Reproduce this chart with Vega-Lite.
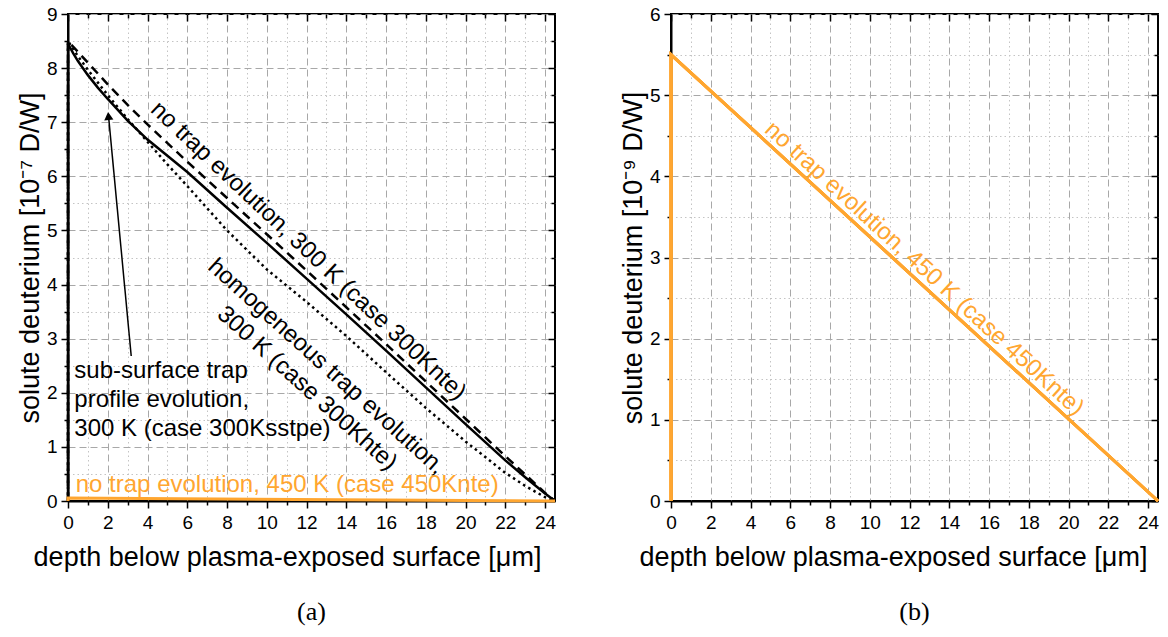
{
  "$schema": "https://vega.github.io/schema/vega-lite/v6.json",
  "padding": {"left": 15, "top": 4, "right": 5, "bottom": 5},
  "spacing": 56,
  "background": "white",
  "config": {
    "view": {"stroke": "black", "strokeWidth": 2},
    "axis": {"labelFont": "Liberation Sans", "titleFont": "Liberation Sans", "labelFontSize": 19, "titleFontSize": 27, "titleFontWeight": "normal", "labelColor": "black", "titleColor": "black", "domainColor": "black", "tickColor": "black", "domainWidth": 2, "tickWidth": 1.5, "labelFlush": false, "labelOverlap": false},
    "text": {"font": "Liberation Sans", "fontSize": 24},
    "title": {"font": "Liberation Serif", "fontSize": 26, "fontWeight": "normal", "color": "black"}
  },
  "datasets": {
    "solidA": [
      {"x": 0, "y": 0}, {"x": 0, "y": 8.45}, {"x": 0.25, "y": 8.28}, {"x": 0.5, "y": 8.13}, {"x": 1, "y": 7.87}, {"x": 1.5, "y": 7.64}, {"x": 2, "y": 7.43}, {"x": 3, "y": 7.03}, {"x": 4, "y": 6.68}, {"x": 5, "y": 6.38}, {"x": 6, "y": 6.08}, {"x": 8, "y": 5.42}, {"x": 10, "y": 4.77}, {"x": 12, "y": 4.11}, {"x": 14, "y": 3.45}, {"x": 16, "y": 2.78}, {"x": 18, "y": 2.1}, {"x": 20, "y": 1.42}, {"x": 22, "y": 0.75}, {"x": 23, "y": 0.44}, {"x": 24, "y": 0.14}, {"x": 24.5, "y": 0}
    ],
    "dashedA": [
      {"x": 0, "y": 0}, {"x": 0, "y": 8.5}, {"x": 0.5, "y": 8.3}, {"x": 1, "y": 8.1}, {"x": 2, "y": 7.7}, {"x": 3, "y": 7.32}, {"x": 4, "y": 6.96}, {"x": 6, "y": 6.27}, {"x": 8, "y": 5.6}, {"x": 10, "y": 4.93}, {"x": 12, "y": 4.26}, {"x": 14, "y": 3.58}, {"x": 16, "y": 2.9}, {"x": 18, "y": 2.21}, {"x": 20, "y": 1.52}, {"x": 22, "y": 0.83}, {"x": 23, "y": 0.49}, {"x": 24, "y": 0.15}, {"x": 24.5, "y": 0}
    ],
    "dottedA": [
      {"x": 0, "y": 0}, {"x": 0, "y": 8.5}, {"x": 0.5, "y": 8.22}, {"x": 1, "y": 7.97}, {"x": 2, "y": 7.5}, {"x": 3, "y": 7.06}, {"x": 4, "y": 6.64}, {"x": 5, "y": 6.22}, {"x": 6, "y": 5.82}, {"x": 8, "y": 5.0}, {"x": 10, "y": 4.28}, {"x": 12, "y": 3.68}, {"x": 14, "y": 3.05}, {"x": 16, "y": 2.38}, {"x": 18, "y": 1.72}, {"x": 20, "y": 1.1}, {"x": 22, "y": 0.52}, {"x": 23, "y": 0.28}, {"x": 24, "y": 0.07}, {"x": 24.5, "y": 0}
    ],
    "orangeA": [
      {"x": 0, "y": 0}, {"x": 0, "y": 0.055}, {"x": 24.5, "y": 0}
    ],
    "arrowA": [
      {"x": 2.03, "y": 7.15}, {"x": 3.18, "y": 2.68}
    ],
    "arrowHeadA": [
      {"x": 2.035, "y": 7.115}
    ],
    "labelsA": [
      {"id": "nte300", "text": "no trap evolution, 300 K (case 300Knte)", "x": 12.08, "y": 4.62},
      {"id": "hte300", "text": "homogeneous trap evolution,\n300 K (case 300Khte)", "x": 13.0, "y": 2.48},
      {"id": "ssstpe", "text": "sub-surface trap\nprofile evolution,\n300 K (case 300Ksstpe)", "x": 0.32, "y": 2.63},
      {"id": "nte450", "text": "no trap evolution, 450 K (case 450Knte)", "x": 0.39, "y": 0.175}
    ],
    "orangeB": [
      {"x": 0, "y": 0}, {"x": 0, "y": 5.5}, {"x": 24.5, "y": 0}
    ],
    "labelsB": [
      {"id": "nte450", "text": "no trap evolution, 450 K (case 450Knte)", "x": 12.74, "y": 2.86}
    ]
  },
  "hconcat": [
    {
      "width": 487,
      "height": 487,
      "title": {"text": "(a)", "orient": "bottom", "anchor": "middle", "frame": "group", "offset": 29},
      "resolve": {"axis": {"x": "independent", "y": "independent"}},
      "layer": [
        {
          "data": {"name": "solidA"},
          "mark": {"type": "line", "color": "black", "strokeWidth": 2.5},
          "encoding": {
            "x": {"field": "x", "type": "quantitative", "scale": {"domain": [0, 24.5], "nice": false},
              "axis": {"orient": "bottom", "values": [0, 2, 4, 6, 8, 10, 12, 14, 16, 18, 20, 22, 24], "grid": true, "gridColor": "#a8a8a8", "gridDash": [7, 4], "gridWidth": 1, "tickSize": 7, "labelPadding": 5, "title": "depth below plasma-exposed surface [μm]", "titlePadding": 12, "titleX": 219}},
            "y": {"field": "y", "type": "quantitative", "scale": {"domain": [0, 9], "nice": false},
              "axis": {"orient": "left", "values": [0, 1, 2, 3, 4, 5, 6, 7, 8, 9], "grid": true, "gridColor": "#a8a8a8", "gridDash": [7, 4], "gridWidth": 1, "tickSize": 7, "labelPadding": 4, "title": "solute deuterium [10⁻⁷ D/W]", "titlePadding": 2}},
            "order": {"value": null}
          }
        },
        {
          "data": {"name": "dashedA"},
          "mark": {"type": "line", "color": "black", "strokeWidth": 2.5, "strokeDash": [9, 6]},
          "encoding": {
            "x": {"field": "x", "type": "quantitative", "scale": {"domain": [0, 24.5], "nice": false},
              "axis": {"orient": "bottom", "values": [1, 3, 5, 7, 9, 11, 13, 15, 17, 19, 21, 23], "grid": true, "gridColor": "#c4c4c4", "gridDash": [1.5, 3], "gridWidth": 1, "tickSize": 4, "labels": false, "domain": false, "title": null}},
            "y": {"field": "y", "type": "quantitative", "scale": {"domain": [0, 9], "nice": false},
              "axis": {"orient": "left", "values": [0.5, 1.5, 2.5, 3.5, 4.5, 5.5, 6.5, 7.5, 8.5], "grid": true, "gridColor": "#c4c4c4", "gridDash": [1.5, 3], "gridWidth": 1, "tickSize": 4, "labels": false, "domain": false, "title": null}},
            "order": {"value": null}
          }
        },
        {
          "data": {"name": "dottedA"},
          "mark": {"type": "line", "color": "black", "strokeWidth": 2.5, "strokeDash": [2.5, 3.5]},
          "encoding": {
            "x": {"field": "x", "type": "quantitative", "scale": {"domain": [0, 24.5], "nice": false},
              "axis": {"orient": "top", "values": [0, 2, 4, 6, 8, 10, 12, 14, 16, 18, 20, 22, 24], "grid": false, "tickSize": -7, "labels": false, "domain": false, "title": null}},
            "y": {"field": "y", "type": "quantitative", "scale": {"domain": [0, 9], "nice": false},
              "axis": {"orient": "right", "values": [0, 1, 2, 3, 4, 5, 6, 7, 8, 9], "grid": false, "tickSize": -7, "labels": false, "domain": false, "title": null}},
            "order": {"value": null}
          }
        },
        {
          "data": {"name": "orangeA"},
          "mark": {"type": "line", "color": "#ffa630", "strokeWidth": 3},
          "encoding": {
            "x": {"field": "x", "type": "quantitative", "scale": {"domain": [0, 24.5], "nice": false},
              "axis": {"orient": "top", "values": [1, 3, 5, 7, 9, 11, 13, 15, 17, 19, 21, 23], "grid": false, "tickSize": -4, "labels": false, "domain": false, "title": null}},
            "y": {"field": "y", "type": "quantitative", "scale": {"domain": [0, 9], "nice": false},
              "axis": {"orient": "right", "values": [0.5, 1.5, 2.5, 3.5, 4.5, 5.5, 6.5, 7.5, 8.5], "grid": false, "tickSize": -4, "labels": false, "domain": false, "title": null}},
            "order": {"value": null}
          }
        },
        {
          "data": {"name": "arrowA"},
          "mark": {"type": "line", "color": "black", "strokeWidth": 1.5},
          "encoding": {
            "x": {"field": "x", "type": "quantitative", "axis": null},
            "y": {"field": "y", "type": "quantitative", "axis": null}
          }
        },
        {
          "data": {"name": "arrowHeadA"},
          "mark": {"type": "point", "shape": "triangle-up", "filled": true, "color": "black", "opacity": 1, "size": 85, "angle": -5.4},
          "encoding": {
            "x": {"field": "x", "type": "quantitative", "axis": null},
            "y": {"field": "y", "type": "quantitative", "axis": null}
          }
        },
        {
          "data": {"name": "labelsA"},
          "transform": [{"filter": "datum.id === 'nte300'"}],
          "mark": {"type": "text", "angle": 43.3, "align": "center", "baseline": "middle", "color": "black"},
          "encoding": {
            "x": {"field": "x", "type": "quantitative", "axis": null},
            "y": {"field": "y", "type": "quantitative", "axis": null},
            "text": {"field": "text"}
          }
        },
        {
          "data": {"name": "labelsA"},
          "transform": [{"filter": "datum.id === 'hte300'"}],
          "mark": {"type": "text", "angle": 42, "align": "center", "baseline": "middle", "color": "black", "lineBreak": "\n", "lineHeight": 29},
          "encoding": {
            "x": {"field": "x", "type": "quantitative", "axis": null},
            "y": {"field": "y", "type": "quantitative", "axis": null},
            "text": {"field": "text"}
          }
        },
        {
          "data": {"name": "labelsA"},
          "transform": [{"filter": "datum.id === 'ssstpe'"}],
          "mark": {"type": "text", "align": "left", "baseline": "top", "color": "black", "lineBreak": "\n", "lineHeight": 29},
          "encoding": {
            "x": {"field": "x", "type": "quantitative", "axis": null},
            "y": {"field": "y", "type": "quantitative", "axis": null},
            "text": {"field": "text"}
          }
        },
        {
          "data": {"name": "labelsA"},
          "transform": [{"filter": "datum.id === 'nte450'"}],
          "mark": {"type": "text", "align": "left", "baseline": "alphabetic", "color": "#ffa630"},
          "encoding": {
            "x": {"field": "x", "type": "quantitative", "axis": null},
            "y": {"field": "y", "type": "quantitative", "axis": null},
            "text": {"field": "text"}
          }
        }
      ]
    },
    {
      "width": 487,
      "height": 487,
      "title": {"text": "(b)", "orient": "bottom", "anchor": "middle", "frame": "group", "offset": 29},
      "resolve": {"axis": {"x": "independent", "y": "independent"}},
      "layer": [
        {
          "data": {"name": "orangeB"},
          "mark": {"type": "line", "color": "#ffa630", "strokeWidth": 3},
          "encoding": {
            "x": {"field": "x", "type": "quantitative", "scale": {"domain": [0, 24.5], "nice": false},
              "axis": {"orient": "bottom", "values": [0, 2, 4, 6, 8, 10, 12, 14, 16, 18, 20, 22, 24], "grid": true, "gridColor": "#a8a8a8", "gridDash": [7, 4], "gridWidth": 1, "tickSize": 7, "labelPadding": 5, "title": "depth below plasma-exposed surface [μm]", "titlePadding": 12, "titleX": 222}},
            "y": {"field": "y", "type": "quantitative", "scale": {"domain": [0, 6], "nice": false},
              "axis": {"orient": "left", "values": [0, 1, 2, 3, 4, 5, 6], "grid": true, "gridColor": "#a8a8a8", "gridDash": [7, 4], "gridWidth": 1, "tickSize": 7, "labelPadding": 4, "title": "solute deuterium [10⁻⁹ D/W]", "titlePadding": 2}},
            "order": {"value": null}
          }
        },
        {
          "data": {"name": "orangeB"},
          "mark": {"type": "line", "color": "#ffa630", "strokeWidth": 3},
          "encoding": {
            "x": {"field": "x", "type": "quantitative", "scale": {"domain": [0, 24.5], "nice": false},
              "axis": {"orient": "bottom", "values": [1, 3, 5, 7, 9, 11, 13, 15, 17, 19, 21, 23], "grid": true, "gridColor": "#c4c4c4", "gridDash": [1.5, 3], "gridWidth": 1, "tickSize": 4, "labels": false, "domain": false, "title": null}},
            "y": {"field": "y", "type": "quantitative", "scale": {"domain": [0, 6], "nice": false},
              "axis": {"orient": "left", "values": [0.5, 1.5, 2.5, 3.5, 4.5, 5.5], "grid": true, "gridColor": "#c4c4c4", "gridDash": [1.5, 3], "gridWidth": 1, "tickSize": 4, "labels": false, "domain": false, "title": null}},
            "order": {"value": null}
          }
        },
        {
          "data": {"name": "orangeB"},
          "mark": {"type": "line", "color": "#ffa630", "strokeWidth": 3},
          "encoding": {
            "x": {"field": "x", "type": "quantitative", "scale": {"domain": [0, 24.5], "nice": false},
              "axis": {"orient": "top", "values": [0, 2, 4, 6, 8, 10, 12, 14, 16, 18, 20, 22, 24], "grid": false, "tickSize": -7, "labels": false, "domain": false, "title": null}},
            "y": {"field": "y", "type": "quantitative", "scale": {"domain": [0, 6], "nice": false},
              "axis": {"orient": "right", "values": [0, 1, 2, 3, 4, 5, 6], "grid": false, "tickSize": -7, "labels": false, "domain": false, "title": null}},
            "order": {"value": null}
          }
        },
        {
          "data": {"name": "orangeB"},
          "mark": {"type": "line", "color": "#ffa630", "strokeWidth": 3},
          "encoding": {
            "x": {"field": "x", "type": "quantitative", "scale": {"domain": [0, 24.5], "nice": false},
              "axis": {"orient": "top", "values": [1, 3, 5, 7, 9, 11, 13, 15, 17, 19, 21, 23], "grid": false, "tickSize": -4, "labels": false, "domain": false, "title": null}},
            "y": {"field": "y", "type": "quantitative", "scale": {"domain": [0, 6], "nice": false},
              "axis": {"orient": "right", "values": [0.5, 1.5, 2.5, 3.5, 4.5, 5.5], "grid": false, "tickSize": -4, "labels": false, "domain": false, "title": null}},
            "order": {"value": null}
          }
        },
        {
          "data": {"name": "labelsB"},
          "mark": {"type": "text", "angle": 42.5, "align": "center", "baseline": "middle", "color": "#ffa630"},
          "encoding": {
            "x": {"field": "x", "type": "quantitative", "axis": null},
            "y": {"field": "y", "type": "quantitative", "axis": null},
            "text": {"field": "text"}
          }
        }
      ]
    }
  ]
}
